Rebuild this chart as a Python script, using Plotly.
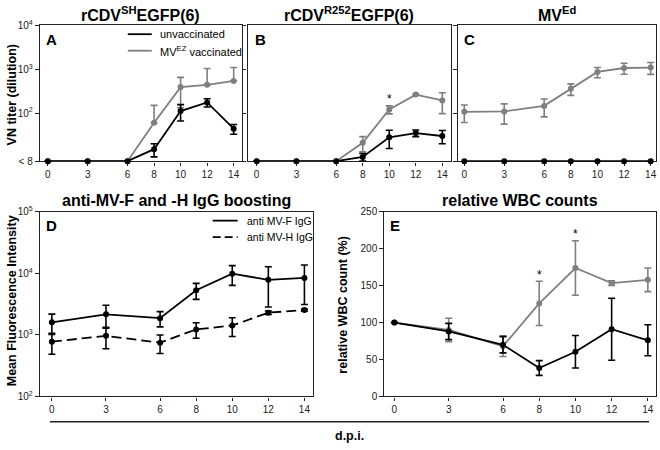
import plotly.graph_objects as go
import math

# ---- data ----
days = [0, 3, 6, 8, 10, 12, 14]
day_ticks = [0, 3, 6, 8, 10, 12, 14]

# A: rCDV-SH EGFP(6), VN titer (8 == "< 8")
a_unvac = [8, 8, 8, 15, 111, 175, 44]
a_unvac_err = [0, 0, 0, 5, 45, 37, 11]
a_vac = [8, 8, 8, 60, 392, 441, 541]
a_vac_err_up = [0, 0, 0, 90, 260, 600, 560]
a_vac_err_dn = [0, 0, 0, 0, 260, 0, 0]

# B: rCDV-R252 EGFP(6)
b_unvac = [8, 8, 8, 10, 28, 35, 30]
b_unvac_err = [0, 0, 0, 2, 12.5, 6, 10]
b_vac = [8, 8, 8, 21, 121, 264, 194]
b_vac_err = [0, 0, 0, 8, 25, 4, 97]
b_star_day = 10
b_star_val = 212

# C: MV-Ed
c_unvac = [8, 8, 8, 8, 8, 8, 8]
c_vac = [107, 109, 146, 359, 871, 1069, 1094]
c_vac_err = [46, 53, 64, 105, 230, 300, 330]

# D: anti MV-F / -H IgG, MFI
d_f = [1600, 2160, 1870, 5330, 9890, 7850, 8430]
d_f_err = [580, 870, 520, 1550, 3500, 5000, 5300]
d_h = [776, 965, 748, 1230, 1420, 2300, 2530]
d_h_err = [290, 370, 250, 350, 480, 150, 100]

# E: relative WBC counts (%)
e_unvac = [100, 88, 70, 38.5, 60.5, 91, 76]
e_unvac_err = [0, 11, 11, 10, 22, 42, 21]
e_vac = [100, 90, 68, 126, 174, 153.5, 158]
e_vac_err = [0, 16, 14, 30, 37, 3, 16]
e_star_days = [8, 10]
e_star_vals = [164, 220]

BLACK = "#000000"
GRAY = "#7f7f7f"
FONT = "Liberation Sans, Arial, sans-serif"
W, H = 660, 450


def xd(a, b):
    return [a / W, b / W]


def yd(top, bottom):
    return [1 - bottom / H, 1 - top / H]


def series(x, y, color, xa, ya, up=None, dn=None, dash="solid"):
    err = None
    if up is not None:
        err = dict(type="data", array=up, arrayminus=dn if dn is not None else up,
                   color=color, thickness=1.6, width=3.5, visible=True)
    return go.Scatter(x=x, y=y, mode="lines+markers", xaxis=xa, yaxis=ya,
                      line=dict(color=color, width=1.8, dash=dash),
                      marker=dict(color=color, size=6),
                      error_y=err, cliponaxis=False, showlegend=False,
                      hoverinfo="skip")


fig = go.Figure()
# A
fig.add_trace(series(days, a_vac, GRAY, "x", "y", a_vac_err_up, a_vac_err_dn))
fig.add_trace(series(days, a_unvac, BLACK, "x", "y", a_unvac_err))
# B
fig.add_trace(series(days, b_vac, GRAY, "x2", "y2", b_vac_err))
fig.add_trace(series(days, b_unvac, BLACK, "x2", "y2", b_unvac_err))
# C
fig.add_trace(series(days, c_vac, GRAY, "x3", "y3", c_vac_err))
fig.add_trace(series(days, c_unvac, BLACK, "x3", "y3"))
# D
fig.add_trace(series(days, d_h, BLACK, "x4", "y4", d_h_err, dash="10px,5px"))
fig.add_trace(series(days, d_f, BLACK, "x4", "y4", d_f_err))
# E
fig.add_trace(series(days, e_vac, GRAY, "x5", "y5", e_vac_err))
fig.add_trace(series(days, e_unvac, BLACK, "x5", "y5", e_unvac_err))

tickfont = dict(family=FONT, size=10, color="#222")
frame = dict(showline=True, mirror=True, linecolor="#222", linewidth=1.4,
             showgrid=False, zeroline=False, ticks="outside", ticklen=3,
             tickcolor="#222", tickfont=tickfont, layer="below traces")

xcommon = dict(frame, tickvals=day_ticks, ticklen=3)
top_log = [math.log10(8) - 0.006, 4]
top_ticks = [8, 100, 1000, 10000]
top_text = ["< 8", "10<sup>2</sup>", "10<sup>3</sup>", "10<sup>4</sup>"]

fig.update_layout(
    width=W, height=H, margin=dict(l=0, r=0, t=0, b=0),
    paper_bgcolor="white", plot_bgcolor="white",
    font=dict(family=FONT, color="#000"),
    xaxis=dict(xcommon, domain=xd(40, 242), range=[-0.6, 14.6], anchor="y"),
    xaxis2=dict(xcommon, domain=xd(248, 452), range=[-0.68, 14.68], anchor="y2"),
    xaxis3=dict(xcommon, domain=xd(459, 657), range=[-0.45, 14.4], anchor="y3"),
    xaxis4=dict(xcommon, domain=xd(40, 313), range=[-0.66, 14.45], anchor="y4"),
    xaxis5=dict(xcommon, domain=xd(385, 657), range=[-0.55, 14.45], anchor="y5"),
    yaxis=dict(frame, type="log", domain=yd(19, 159), range=top_log, anchor="x",
               tickvals=top_ticks, ticktext=top_text, ticklen=4),
    yaxis2=dict(frame, type="log", domain=yd(19, 159), range=top_log, anchor="x2",
                tickvals=top_ticks, showticklabels=False, ticklen=4),
    yaxis3=dict(frame, type="log", domain=yd(19, 159), range=top_log, anchor="x3",
                tickvals=top_ticks, showticklabels=False, ticklen=4),
    yaxis4=dict(frame, type="log", domain=yd(211, 401), range=[2, 5], anchor="x4",
                tickvals=[100, 1000, 10000, 100000],
                ticktext=["10<sup>2</sup>", "10<sup>3</sup>", "10<sup>4</sup>", "10<sup>5</sup>"],
                ticklen=4),
    yaxis5=dict(frame, domain=yd(211, 401), range=[0, 250], anchor="x5",
                tickvals=[0, 50, 100, 150, 200, 250], ticklen=4),
)

ann = []


def text(x, y, s, size, bold=True, xanchor="center", angle=0):
    ann.append(dict(x=x / W, y=1 - y / H, xref="paper", yref="paper",
                    text=("<b>%s</b>" % s) if bold else s, showarrow=False,
                    xanchor=xanchor, yanchor="middle", textangle=angle,
                    font=dict(family=FONT, size=size, color="#000")))


# panel titles
text(141, 7, "rCDV<sup>SH</sup>EGFP(6)", 16)
text(350, 7, "rCDV<sup>R252</sup>EGFP(6)", 16)
text(558, 7, "MV<sup>Ed</sup>", 16)
text(177, 199, "anti-MV-F and -H IgG boosting", 16)
text(521, 199, "relative WBC counts", 16)

# panel letters
for lx, ly, letter in [(44, 33, "A"), (253, 33, "B"), (463, 33, "C"),
                       (44, 225, "D"), (389, 225, "E")]:
    text(lx, ly, letter, 15, xanchor="left")

# axis titles
text(12, 90, "VN titer (dilution)", 12.5, angle=-90)
text(12, 302, "Mean Fluorescence Intensity", 12.5, angle=-90)
text(344, 306, "relative WBC count (%)", 12.5, angle=-90)
text(350, 442, "d.p.i.", 12.5)

# legends
text(158, 28, "unvaccinated", 11, bold=False, xanchor="left")
text(158, 45, "MV<sup>EZ</sup> vaccinated", 11, bold=False, xanchor="left")
text(245, 220, "anti MV-F IgG", 10.5, bold=False, xanchor="left")
text(245, 237, "anti MV-H IgG", 10.5, bold=False, xanchor="left")

# significance stars
ann.append(dict(x=b_star_day, y=math.log10(b_star_val), xref="x2", yref="y2",
                text="*", showarrow=False, font=dict(family=FONT, size=12)))
for sd, sv in zip(e_star_days, e_star_vals):
    ann.append(dict(x=sd, y=sv, xref="x5", yref="y5", text="*", showarrow=False,
                    font=dict(family=FONT, size=12)))

fig.update_layout(annotations=ann)


def pline(x0, y0, x1, y1, color, dash="solid", width=1.8):
    return dict(type="line", xref="paper", yref="paper",
                x0=x0 / W, x1=x1 / W, y0=1 - y0 / H, y1=1 - y1 / H,
                line=dict(color=color, width=width, dash=dash))


fig.update_layout(shapes=[
    pline(128, 28, 152, 28, BLACK),
    pline(128, 45, 152, 45, GRAY),
    pline(213, 220, 238, 220, BLACK),
    pline(213, 237, 238, 237, BLACK, dash="8px,4px"),
    pline(50, 427, 650, 427, "#222", width=1.5),
])

fig.write_html("out.html", config={"displayModeBar": False},
               post_script="document.body.style.margin='0px';"
                           "document.body.style.overflow='hidden';")
